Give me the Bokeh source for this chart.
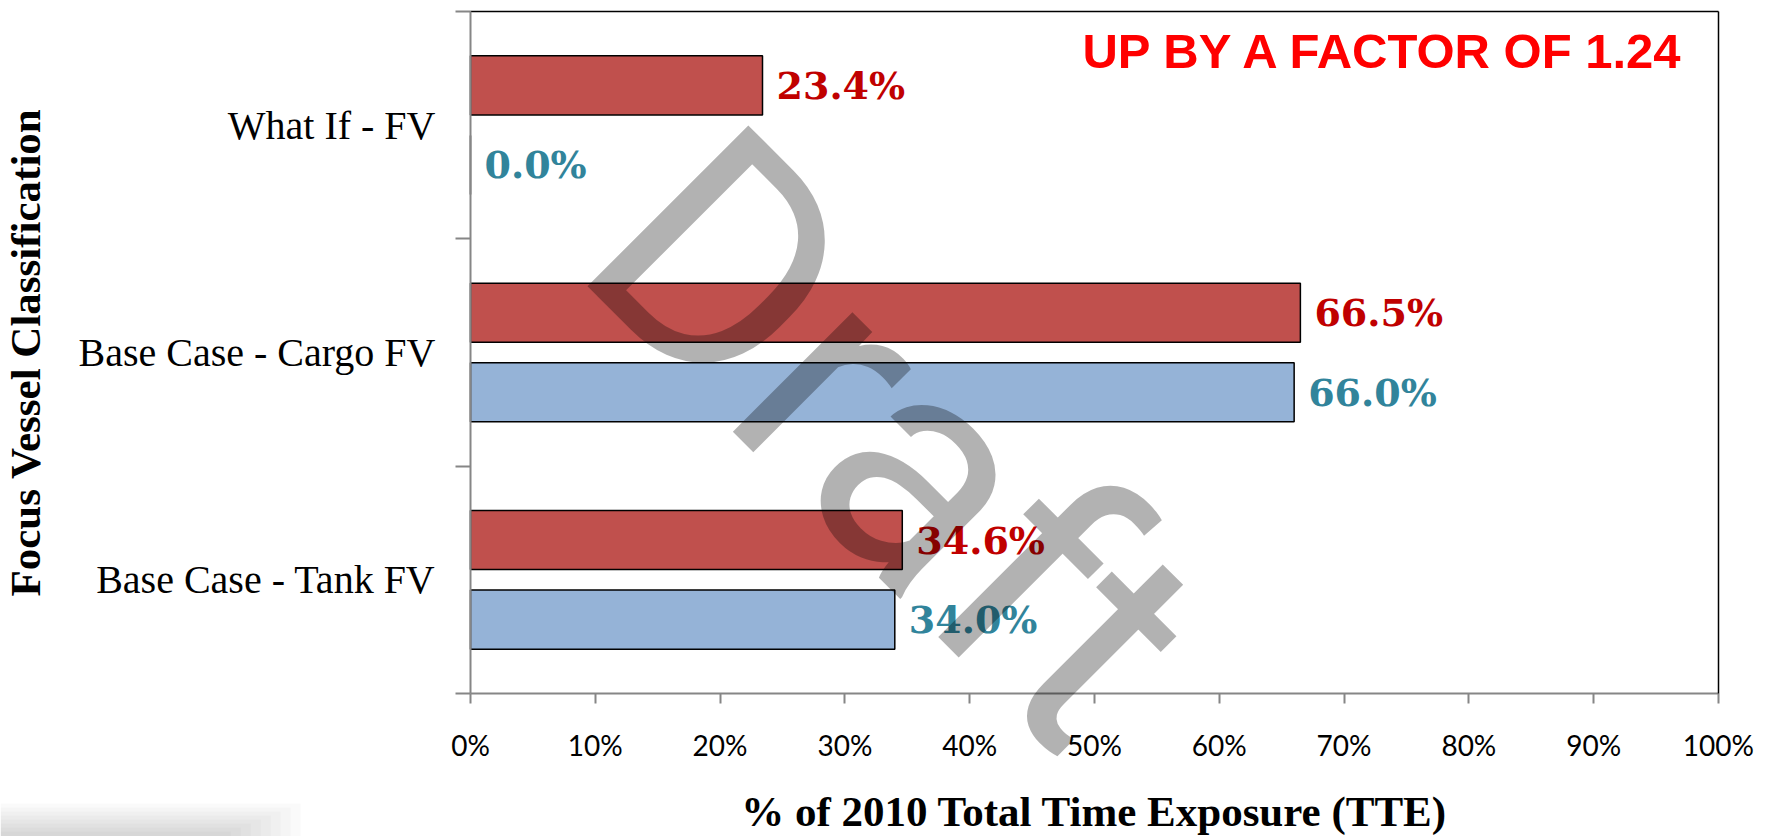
import numpy as np
from math import pi
from bokeh.plotting import figure
from bokeh.models import (ColumnDataSource, FixedTicker, Range1d, Label, PrintfTickFormatter,
                          LinearAxis, BoxAnnotation)
from bokeh.embed import file_html
from bokeh.resources import INLINE
from bokeh.core.properties import value

# ---- data ----
categories = ["Base Case - Tank FV", "Base Case - Cargo FV", "What If - FV"]
red_values = [34.6, 66.5, 23.4]
blue_values = [34.0, 66.0, 0.0]
x_ticks = [0, 10, 20, 30, 40, 50, 60, 70, 80, 90, 100]
x_title = "% of 2010 Total Time Exposure (TTE)"
y_title = "Focus Vessel Classification"
note_text = "UP BY A FACTOR OF 1.24"
watermark_text = "Draft"

RED = "#C0504D"
BLUE = "#95B3D7"
RED_LBL = "#C00000"
BLUE_LBL = "#31849B"
AXIS = "#868686"

W, H = 1767, 836
n = len(categories)
# The frame covers the whole canvas; axes are pinned to the 0..100 x 0..n plot area,
# so that nothing (tick labels, watermark) is cut at the plot-area edges.
x_lo, x_hi = -37.66, 103.93
y_lo, y_hi = -0.629, 3.0484
p = figure(width=W, height=H, x_range=Range1d(x_lo, x_hi), y_range=Range1d(y_lo, y_hi),
           output_backend="svg", toolbar_location=None,
           min_border_left=0, min_border_right=0, min_border_top=0, min_border_bottom=0)
p.background_fill_color = "white"
p.border_fill_color = "white"
p.outline_line_color = None
p.grid.visible = False

# soft grey shadow in the bottom-left corner (decoration)
for k in range(8):
    p.add_layout(BoxAnnotation(left=x_lo, right=-13.6 - 0.8 * k, top=-0.484 - 0.0176 * k, bottom=y_lo,
                               fill_color="black", fill_alpha=0.021, line_color=None))

centers = np.arange(n) + 0.5
off = 0.175
bh = 0.26
src = ColumnDataSource(dict(
    yr=centers + off, yb=centers - off,
    red=red_values, blue=blue_values,
    red_lbl=[f"{v:.1f}%" for v in red_values],
    blue_lbl=[f"{v:.1f}%" for v in blue_values],
))

p.hbar(y="yr", left=0, right="red", height=bh, source=src, fill_color=RED, line_color="black", line_width=1.5)
p.hbar(y="yb", left=0, right="blue", height=bh, source=src, fill_color=BLUE, line_color="black", line_width=1.5)

p.text(x="red", y="yr", text="red_lbl", source=src, x_offset=14, text_baseline="middle", text_align="left",
       text_font=value("DejaVu Serif"), text_font_style="bold", text_font_size="38px", text_color=RED_LBL)
p.text(x="blue", y="yb", text="blue_lbl", source=src, x_offset=14, text_baseline="middle", text_align="left",
       text_font=value("DejaVu Serif"), text_font_style="bold", text_font_size="38px", text_color=BLUE_LBL)

# x axis, pinned at y = 0
xa = p.xaxis[0]
xa.fixed_location = 0
xa.bounds = (0, 100)
xa.ticker = FixedTicker(ticks=x_ticks, minor_ticks=[])
xa.formatter = PrintfTickFormatter(format="%d%%")
xa.axis_line_color = AXIS
xa.axis_line_width = 2
xa.major_tick_line_color = AXIS
xa.major_tick_line_width = 2
xa.major_tick_out = 10
xa.major_tick_in = 0
xa.minor_tick_line_color = None
xa.minor_tick_out = 0
xa.major_label_standoff = 24
xa.major_label_text_font = "Lato"
xa.major_label_text_font_size = "28px"
xa.major_label_text_color = "black"

# y axis pinned at x = 0: labels at category centres, ticks at category boundaries
ya = p.yaxis[0]
ya.fixed_location = 0
ya.bounds = (0, n)
ya.ticker = FixedTicker(ticks=list(centers), minor_ticks=list(range(n + 1)))
ya.major_label_overrides = {float(c): cat for c, cat in zip(centers, categories)}
ya.axis_line_color = AXIS
ya.axis_line_width = 2
ya.major_tick_out = 0
ya.major_tick_in = 0
ya.major_tick_line_color = None
ya.minor_tick_line_color = AXIS
ya.minor_tick_line_width = 2
ya.minor_tick_out = 15
ya.minor_tick_in = 0
ya.major_label_standoff = 20
ya.major_label_text_font = "Liberation Serif"
ya.major_label_text_font_size = "40px"
ya.major_label_text_color = "black"

# black plot-area border on top and right
top_border = LinearAxis(fixed_location=n, bounds=(0, 100), ticker=FixedTicker(ticks=[]),
                        axis_line_color="black", axis_line_width=1.5,
                        major_tick_line_color=None, minor_tick_line_color=None)
right_border = LinearAxis(fixed_location=100, bounds=(0, n), ticker=FixedTicker(ticks=[]),
                          axis_line_color="black", axis_line_width=1.5,
                          major_tick_line_color=None, minor_tick_line_color=None)
p.add_layout(top_border, "above")
p.add_layout(right_border, "right")

# axis titles
p.add_layout(Label(x=50, y=-0.519, text=x_title, text_align="center", text_baseline="middle",
                   text_font="Liberation Serif", text_font_style="bold", text_font_size="43px",
                   text_color="black"))
p.add_layout(Label(x=-35.66, y=n / 2, text=y_title, angle=pi / 2, text_align="center",
                   text_baseline="middle", text_font="Liberation Serif", text_font_style="bold",
                   text_font_size="43px", text_color="black"))

# note
p.add_layout(Label(x=97.4, y=2.825, text=note_text, text_align="right", text_baseline="alphabetic",
                   text_font="Liberation Sans", text_font_style="bold", text_font_size="49px",
                   text_color="#FF0000"))

# watermark
p.add_layout(Label(x=14.08, y=2.214, text=watermark_text, angle=-pi / 4,
                   text_align="left", text_baseline="alphabetic", text_font="Roboto",
                   text_font_size="320px", text_color="black", text_alpha=0.3))

open("out.html", "w").write(file_html(p, INLINE))
